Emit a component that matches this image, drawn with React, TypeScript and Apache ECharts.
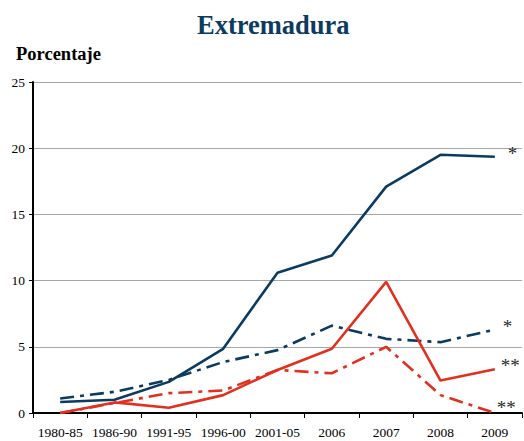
import React, { useEffect, useRef } from "react";
import * as echarts from "echarts";

const categories = ["1980-85", "1986-90", "1991-95", "1996-00", "2001-05", "2006", "2007", "2008", "2009"];
const blueSolid = [0.83, 1.0, 2.35, 4.85, 10.6, 11.9, 17.1, 19.5, 19.35];
const blueDashDot = [1.1, 1.6, 2.5, 3.85, 4.75, 6.6, 5.6, 5.35, 6.3];
const redSolid = [0, 0.8, 0.4, 1.35, 3.25, 4.85, 9.9, 2.45, 3.3];
const redDashDot = [0, 0.75, 1.5, 1.7, 3.25, 3.0, 5.0, 1.35, 0];
const endMarks = ["*", "*", "**", "**"];
const yTicks = [0, 5, 10, 15, 20, 25];

const NAVY = "#0b3b60";
const RED = "#e1301f";
const FONT = "'Liberation Serif', 'DejaVu Serif', serif";

function endLabel(mark: string, offset: number[]) {
  return {
    show: true,
    distance: 8,
    offset,
    formatter: mark,
    color: "#2a2a2a",
    fontSize: 19,
    fontFamily: FONT,
  };
}

export default function App() {
  const ref = useRef<HTMLDivElement>(null);
  useEffect(() => {
    document.body.style.margin = "0";
    const chart = echarts.init(ref.current!, undefined, { renderer: "svg" });
    const dashDot = [14, 6, 4, 6];
    chart.setOption({
      animation: false,
      backgroundColor: "#fff",
      title: [
        {
          text: "Extremadura",
          left: 192,
          top: 6,
          textStyle: { color: NAVY, fontSize: 26.5, fontWeight: "bold", fontFamily: FONT },
        },
        {
          text: "Porcentaje",
          left: 11,
          top: 39,
          textStyle: { color: "#000", fontSize: 18.5, fontWeight: "bold", fontFamily: FONT },
        },
      ],
      grid: { left: 33, right: 2, top: 82, bottom: 28, containLabel: false },
      xAxis: {
        type: "category",
        data: categories,
        boundaryGap: true,
        axisLine: { lineStyle: { color: "#000", width: 2 } },
        axisTick: { show: true, length: 5, lineStyle: { color: "#000", width: 1 } },
        axisLabel: { color: "#000", fontSize: 13.5, fontFamily: FONT, margin: 12, interval: 0 },
      },
      yAxis: {
        type: "value",
        min: yTicks[0],
        max: yTicks[yTicks.length - 1],
        interval: 5,
        axisLine: { show: true, lineStyle: { color: "#000", width: 2 } },
        axisTick: { show: true, length: 4, lineStyle: { color: "#000", width: 1 } },
        axisLabel: { color: "#000", fontSize: 13.5, fontFamily: FONT, margin: 8 },
        splitLine: { show: true, lineStyle: { color: "#a6a6a6", width: 1 } },
      },
      series: [
        {
          type: "line",
          data: blueSolid,
          symbol: "none",
          lineStyle: { color: NAVY, width: 2.6 },
          endLabel: endLabel(endMarks[0], [5, -3]),
        },
        {
          type: "line",
          data: blueDashDot,
          symbol: "none",
          lineStyle: { color: NAVY, width: 2.6, type: dashDot },
          endLabel: endLabel(endMarks[1], [0, -3]),
        },
        {
          type: "line",
          data: redSolid,
          symbol: "none",
          lineStyle: { color: RED, width: 2.6 },
          endLabel: endLabel(endMarks[2], [-2, -4]),
        },
        {
          type: "line",
          data: redDashDot,
          symbol: "none",
          lineStyle: { color: RED, width: 2.6, type: dashDot },
          endLabel: endLabel(endMarks[3], [-6, -6]),
        },
      ],
    });
    return () => chart.dispose();
  }, []);
  return <div ref={ref} style={{ width: 524, height: 441 }} />;
}
